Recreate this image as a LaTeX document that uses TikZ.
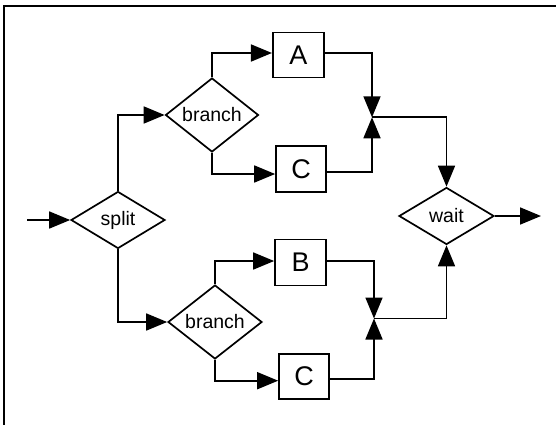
\documentclass[tikz,border=0pt]{standalone}
\usepackage{fontspec}
\setmainfont{Liberation Sans}
\usetikzlibrary{shapes.geometric,arrows.meta}
\tikzset{
  lw/.style={line width=1.7pt},
  dec/.style={diamond, draw, lw, inner sep=0pt, font=\fontsize{19.5}{20}\selectfont},
  box/.style={rectangle, draw, lw, inner sep=0pt, font=\fontsize{27}{28}\selectfont},
  arr/.style={lw, -{Triangle[length=21pt,width=17pt]}},
}
\begin{document}
\begin{tikzpicture}[x=1pt,y=-1pt]
\useasboundingbox (0,0) rectangle (556,425);
\draw[lw] (4,426) -- (4,6) -- (557,6);
\node[dec, minimum width=94pt, minimum height=57pt] (split) at (118,220) {split\hspace{18pt}};
\node[dec, minimum width=93pt, minimum height=57pt] (b1) at (212,115) {branch};
\node[dec, minimum width=94pt, minimum height=57pt] (b2) at (215,322) {branch};
\node[dec, minimum width=95pt, minimum height=57pt] (wait) at (446.5,216) {wait};
\node[box, minimum width=51pt, minimum height=45pt] (A) at (298.3,55) {A};
\node[box, minimum width=50pt, minimum height=46pt] (C1) at (301,169) {C};
\node[box, minimum width=51pt, minimum height=46pt] (B) at (300.5,262.5) {B};
\node[box, minimum width=50pt, minimum height=45pt] (C2) at (304,376.7) {C};
\coordinate (in) at (27,220);
\coordinate (out) at (541,216);
\coordinate (j1) at (372,117.3);
\coordinate (j2) at (374,318.5);
\draw[arr] (in) -- (split.west);
\draw[arr] (split.north) |- (b1.west);
\draw[arr] (split.south) |- (b2.west);
\draw[arr] (b1.north) |- ([yshift=2pt]A.west);
\draw[arr] (b1.south) |- ([yshift=-5pt]C1.west);
\draw[arr] (b2.north) |- ([yshift=1.5pt]B.west);
\draw[arr] (b2.south) |- ([yshift=-4pt]C2.west);
\draw[arr] ([yshift=2pt]A.east) -| (j1);
\draw[arr] ([yshift=-3pt]C1.east) -| (j1);
\draw[arr] ([yshift=1.5pt]B.east) -| (j2);
\draw[arr] ([yshift=-2.3pt]C2.east) -| (j2);
\draw[arr] (j1) -| (wait.north);
\draw[arr] (j2) -| (wait.south);
\draw[arr] (wait.east) -- (out);
\end{tikzpicture}
\end{document}
